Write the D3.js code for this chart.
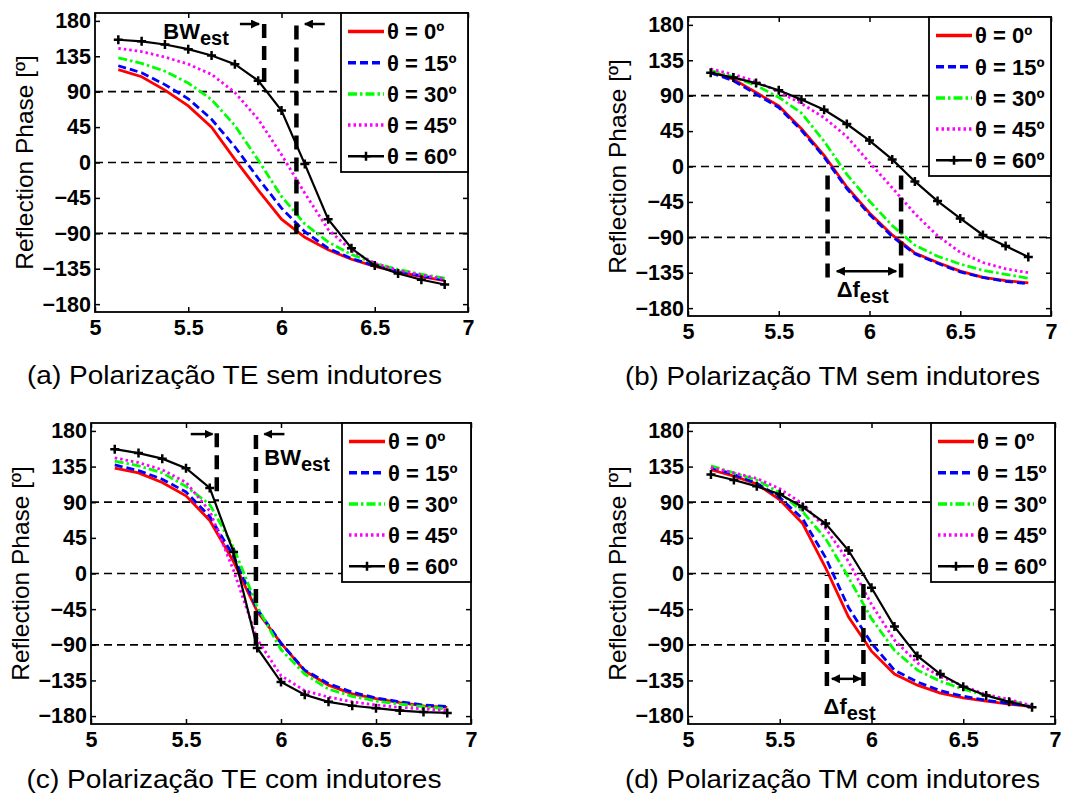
<!DOCTYPE html>
<html lang="pt">
<head>
<meta charset="utf-8">
<script src="https://cdn.jsdelivr.net/npm/d3@7"></script>
<style>
  body { margin:0; padding:0; background:#ffffff; }
  svg { display:block; font-family:"Liberation Sans", Arial, Helvetica, sans-serif; }
  .tick text { font-size:21.5px; font-weight:bold; fill:#000; }
  .tick line { stroke:#000; stroke-width:1.5; }
  .ylabel { font-size:24.5px; fill:#000; }
  .caption { font-size:26.5px; fill:#000; }
  .legend text { font-size:22px; font-weight:bold; fill:#000; }
  .annot { font-weight:bold; fill:#000; }
</style>
</head>
<body>
<svg id="chart" width="1081" height="801"></svg>
<script>
// frequencies (GHz) of the simulated points
var freqs = [5.125, 5.25, 5.375, 5.5, 5.625, 5.75, 5.875, 6.0, 6.125, 6.25, 6.375, 6.5, 6.625, 6.75, 6.875];

var legendLabels = ["θ = 0º", "θ = 15º", "θ = 30º", "θ = 45º", "θ = 60º"];
var xTicks = [5, 5.5, 6, 6.5, 7];
var yTicks = [-180, -135, -90, -45, 0, 45, 90, 135, 180];
var refLevels = [90, 0, -90];

// (a) TE sem indutores
var teSem0  = [118, 109, 92, 72, 45, 4, -35, -72, -95, -111, -123, -132, -139, -145, -150];
var teSem15 = [123, 114, 99, 81, 55, 20, -20, -58, -88, -109, -122, -131, -138, -144, -149];
var teSem30 = [133, 126, 116, 101, 80, 47, 3, -43, -78, -101, -117, -128, -136, -142, -147];
var teSem45 = [145, 141, 134, 125, 112, 89, 55, 10, -39, -85, -112, -128, -137, -143, -148];
var teSem60 = [156, 154, 150, 144, 136, 125, 104, 66, -2, -72, -109, -131, -141, -149, -155];

// (b) TM sem indutores
var tmSem0  = [121, 111, 94, 77, 48, 14, -26, -59, -87, -110, -122, -133, -141, -145, -148];
var tmSem15 = [119, 109, 92, 75, 46, 12, -28, -61, -89, -111, -123, -134, -141, -146, -149];
var tmSem30 = [122, 114, 103, 88, 68, 32, -10, -44, -75, -100, -114, -124, -132, -137, -142];
var tmSem45 = [124, 117, 108, 95, 80, 62, 38, 5, -27, -60, -88, -109, -122, -130, -135];
var tmSem60 = [119, 113, 106, 97, 85, 72, 54, 33, 9, -19, -44, -66, -87, -101, -115];

// (c) TE com indutores
var teCom0  = [133, 127, 115, 98, 67, 15, -48, -88, -123, -141, -152, -158, -163, -167, -169];
var teCom15 = [137, 130, 119, 103, 72, 22, -45, -88, -122, -139, -150, -157, -162, -166, -168];
var teCom30 = [142, 136, 127, 110, 87, 33, -42, -96, -127, -146, -155, -161, -165, -168, -171];
var teCom45 = [146, 140, 131, 115, 79, 4, -83, -129, -148, -156, -162, -166, -169, -171, -173];
var teCom60 = [157, 152, 145, 133, 108, 27, -94, -137, -153, -162, -167, -170, -173, -175, -176];

// (d) TM com indutores
var tmCom0  = [131, 123, 113, 93, 63, 7, -55, -98, -127, -141, -151, -157, -161, -165, -168];
var tmCom15 = [134, 125, 114, 96, 69, 20, -43, -88, -122, -137, -148, -155, -160, -164, -168];
var tmCom30 = [136, 127, 118, 102, 78, 44, -5, -57, -97, -122, -136, -146, -154, -161, -167];
var tmCom45 = [134, 127, 120, 107, 88, 57, 15, -39, -84, -113, -130, -142, -153, -159, -167];
var tmCom60 = [125, 118, 110, 100, 84, 63, 29, -18, -67, -104, -127, -143, -154, -162, -169];

// annotations: [freq, phase from, phase to] / [freq start, freq end, phase]
var bwLinesA  = [[5.907, 90, 176], [6.08, -90, 174]];
var bwArrowsA = [[5.777, 5.88, 176], [6.232, 6.125, 176]];
var bwLabelA  = [5.366, 157];
var dfLinesB  = [[5.769, -2, -141], [6.174, -2, -141]];
var dfArrowB  = [5.82, 6.147, -133];
var dfLabelB  = [5.819, -166];
var bwLinesC  = [[5.662, 91, 177], [5.868, -91, 175]];
var bwArrowsC = [[5.525, 5.64, 176], [6.018, 5.912, 176]];
var bwLabelC  = [5.912, 137];
var dfLinesD  = [[5.757, -2, -142], [5.956, -2, -142]];
var dfArrowD  = [5.784, 5.942, -133];
var dfLabelD  = [5.739, -178];

var styles = [
  {color:"#ff0000", dash:null},
  {color:"#0000ff", dash:"8,4"},
  {color:"#00ff00", dash:"9,3,2.5,3"},
  {color:"#ff00ff", dash:"2.5,3"},
  {color:"#000000", dash:null}
];

var panels = [
  {box:{left:95, right:468, top:13, bottom:312}, legW:127,
   series:[teSem0, teSem15, teSem30, teSem45, teSem60],
   caption:"(a) Polarização TE sem indutores", capX:234.5, capY:384,
   vlines:bwLinesA, arrows:bwArrowsA, label:bwLabelA, lab:["BW","est"]},
  {box:{left:688, right:1051, top:17, bottom:316}, legW:122,
   series:[tmSem0, tmSem15, tmSem30, tmSem45, tmSem60],
   caption:"(b) Polarização TM sem indutores", capX:832.5, capY:385,
   vlines:dfLinesB, dbl:dfArrowB, label:dfLabelB, lab:["Δf","est"]},
  {box:{left:91, right:471, top:423, bottom:724}, legW:129,
   series:[teCom0, teCom15, teCom30, teCom45, teCom60],
   caption:"(c) Polarização TE com indutores", capX:234, capY:788,
   vlines:bwLinesC, arrows:bwArrowsC, label:bwLabelC, lab:["BW","est"]},
  {box:{left:688, right:1055, top:423, bottom:724}, legW:124,
   series:[tmCom0, tmCom15, tmCom30, tmCom45, tmCom60],
   caption:"(d) Polarização TM com indutores", capX:832.5, capY:788,
   vlines:dfLinesD, dbl:dfArrowD, label:dfLabelD, lab:["Δf","est"]}
];

var svg = d3.select("#chart");
var defs = svg.append("defs");
defs.append("marker").attr("id","head")
  .attr("viewBox","0 0 10 10").attr("refX",9).attr("refY",5)
  .attr("markerWidth",9).attr("markerHeight",9)
  .attr("markerUnits","userSpaceOnUse")
  .attr("orient","auto-start-reverse")
  .append("path").attr("d","M0,0L10,5L0,10z").attr("fill","#000");

function plusMark(sel, size){
  sel.attr("d","M"+(-size)+",0H"+size+"M0,"+(-size)+"V"+size)
    .attr("stroke","#000").attr("stroke-width",2.5).attr("fill","none");
}

panels.forEach(function(p){
  var b = p.box;
  var x = d3.scaleLinear().domain([5,7]).range([b.left,b.right]);
  var y = d3.scaleLinear().domain([-190,190]).range([b.bottom,b.top]);
  var g = svg.append("g");

  // horizontal reference lines
  g.selectAll(".ref").data(refLevels).join("line").attr("class","ref")
    .attr("x1",b.left).attr("x2",b.right)
    .attr("y1",function(d){return y(d);}).attr("y2",function(d){return y(d);})
    .attr("stroke","#000").attr("stroke-width",1.7).attr("stroke-dasharray","8,5");

  // curves
  var line = d3.line().x(function(d,i){return x(freqs[i]);}).y(function(d){return y(d);});
  p.series.forEach(function(vals,k){
    g.append("path").attr("d",line(vals)).attr("fill","none")
      .attr("stroke",styles[k].color).attr("stroke-width",k==4?2.2:2.8)
      .attr("stroke-dasharray",styles[k].dash);
  });
  g.selectAll(".mk").data(p.series[4]).join("path").attr("class","mk")
    .attr("transform",function(d,i){return "translate("+x(freqs[i])+","+y(d)+")";})
    .call(plusMark,4.5);

  // thick dashed markers
  p.vlines.forEach(function(v){
    g.append("line").attr("x1",x(v[0])).attr("x2",x(v[0]))
      .attr("y1",y(v[2])).attr("y2",y(v[1]))
      .attr("stroke","#000").attr("stroke-width",4.5).attr("stroke-dasharray","14,8");
  });
  if(p.arrows){
    p.arrows.forEach(function(a){
      g.append("line").attr("x1",x(a[0])).attr("x2",x(a[1]))
        .attr("y1",y(a[2])).attr("y2",y(a[2]))
        .attr("stroke","#000").attr("stroke-width",2.5).attr("marker-end","url(#head)");
    });
  }
  if(p.dbl){
    var a = p.dbl;
    g.append("line").attr("x1",x(a[0])).attr("x2",x(a[1]))
      .attr("y1",y(a[2])).attr("y2",y(a[2]))
      .attr("stroke","#000").attr("stroke-width",2.5)
      .attr("marker-start","url(#head)").attr("marker-end","url(#head)");
  }
  var t = g.append("text").attr("class","annot")
    .attr("x",x(p.label[0])).attr("y",y(p.label[1]));
  t.append("tspan").attr("font-size","22px").text(p.lab[0]);
  t.append("tspan").attr("font-size","20px").attr("dy",6).text(p.lab[1]);

  // axes, ticks inward on all four sides
  g.append("g").attr("transform","translate("+b.left+",0)")
    .call(d3.axisLeft(y).tickValues(yTicks).tickSize(-5).tickPadding(4))
    .call(function(s){s.select(".domain").remove();});
  g.append("g").attr("transform","translate("+b.right+",0)")
    .call(d3.axisRight(y).tickValues(yTicks).tickSize(-5).tickFormat(""))
    .call(function(s){s.select(".domain").remove();});
  g.append("g").attr("transform","translate(0,"+b.bottom+")")
    .call(d3.axisBottom(x).tickValues(xTicks).tickSize(-5).tickPadding(8).tickFormat(d3.format("")))
    .call(function(s){s.select(".domain").remove();});
  g.append("g").attr("transform","translate(0,"+b.top+")")
    .call(d3.axisTop(x).tickValues(xTicks).tickSize(-5).tickFormat(""))
    .call(function(s){s.select(".domain").remove();});
  g.append("rect").attr("x",b.left).attr("y",b.top)
    .attr("width",b.right-b.left).attr("height",b.bottom-b.top)
    .attr("fill","none").attr("stroke","#000").attr("stroke-width",1.8);

  // legend
  var lx = b.right - p.legW, ly = b.top;
  var leg = g.append("g").attr("class","legend");
  leg.append("rect").attr("x",lx).attr("y",ly).attr("width",p.legW).attr("height",159)
    .attr("fill","#fff").attr("stroke","#000").attr("stroke-width",1.8);
  legendLabels.forEach(function(lbl,k){
    var ry = ly + 18.5 + 31.2*k;
    leg.append("line").attr("x1",lx+7).attr("x2",lx+43).attr("y1",ry).attr("y2",ry)
      .attr("stroke",styles[k].color).attr("stroke-width",k==4?2.5:3.5)
      .attr("stroke-dasharray",styles[k].dash);
    if(k==4){
      leg.append("path").attr("transform","translate("+(lx+25)+","+ry+")").call(plusMark,4.5);
    }
    leg.append("text").attr("x",lx+46).attr("y",ry).attr("dy","0.36em").text(lbl);
  });

  // y label and caption
  g.append("text").attr("class","ylabel")
    .attr("transform","translate("+(b.left-71)+","+((b.top+b.bottom)/2)+") rotate(-90)")
    .attr("text-anchor","middle").attr("dy","0.36em").text("Reflection Phase [º]");
  g.append("text").attr("class","caption").attr("x",p.capX).attr("y",p.capY)
    .attr("text-anchor","middle").attr("textLength",415).attr("lengthAdjust","spacingAndGlyphs")
    .text(p.caption);
});
</script>
</body>
</html>
